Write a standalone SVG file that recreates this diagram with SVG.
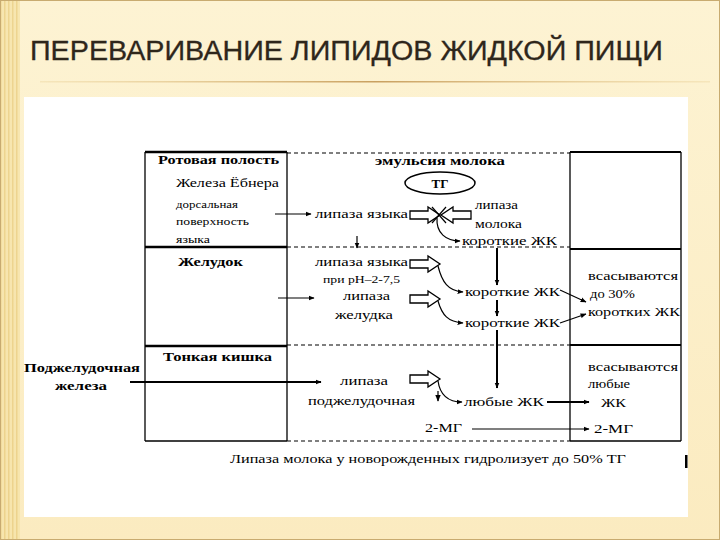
<svg xmlns="http://www.w3.org/2000/svg" width="720" height="540" viewBox="0 0 720 540">
<defs>
<linearGradient id="bg" x1="0" y1="0" x2="0" y2="1">
<stop offset="0" stop-color="#fdf3d3"/>
<stop offset="1" stop-color="#fbebc0"/>
</linearGradient>
<linearGradient id="rule" x1="0" y1="0" x2="1" y2="0">
<stop offset="0" stop-color="#e6c98a" stop-opacity="0.3"/>
<stop offset="0.5" stop-color="#c9a060"/>
<stop offset="1" stop-color="#e6c98a" stop-opacity="0.3"/>
</linearGradient>
<pattern id="stripes" width="4" height="10" patternUnits="userSpaceOnUse">
<rect width="4" height="10" fill="#f6e3a8"/>
<rect width="1.5" height="10" fill="#e9cd80"/>
</pattern>
<marker id="ah" viewBox="0 0 10 10" refX="9" refY="5" markerWidth="6" markerHeight="6" orient="auto" markerUnits="userSpaceOnUse">
<path d="M0,1 L10,5 L0,9 Z" fill="#000"/>
</marker>
<marker id="ahs" viewBox="0 0 10 10" refX="9" refY="5" markerWidth="7" markerHeight="7" orient="auto" markerUnits="userSpaceOnUse">
<path d="M0,1 L10,5 L0,9 Z" fill="#000"/>
</marker>
<path id="blk" d="M-30,-4 L-12,-4 L-12,-8 L0,0 L-12,8 L-12,4 L-30,4 Z" fill="#fff" stroke="#000" stroke-width="1.3"/>
</defs>
<style>
.t{font-family:"Liberation Serif","Times New Roman",serif;fill:#000;}
.b{font-weight:bold;}
.s13{font-size:13px;}
.s12{font-size:12px;}
.s10{font-size:10px;}
.box{fill:none;stroke:#000;stroke-width:1.3;}
.thk{fill:none;stroke:#000;stroke-width:2.5;}
.dash{fill:none;stroke:#000;stroke-width:1.2;stroke-dasharray:4,3;}
.ln{fill:none;stroke:#000;stroke-width:1.2;}
.lnt{fill:none;stroke:#000;stroke-width:2;}
</style>
<rect width="720" height="540" fill="url(#bg)"/>
<rect x="0" y="0" width="20" height="540" fill="url(#stripes)" opacity="0.8"/>
<rect x="0.5" y="0.5" width="719" height="539" fill="none" stroke="#c8ab70" stroke-width="1"/>
<text x="30" y="60" font-family="Liberation Sans, Arial, sans-serif" font-size="27" fill="#2e261b" stroke="#2e261b" stroke-width="0.3" textLength="633" lengthAdjust="spacingAndGlyphs">ПЕРЕВАРИВАНИЕ ЛИПИДОВ ЖИДКОЙ ПИЩИ</text>
<rect x="40" y="81" width="670" height="1.5" fill="url(#rule)"/>
<rect x="24" y="97" width="664" height="420" fill="#fff"/>

<g id="frame">
<line class="thk" x1="145" y1="152" x2="287" y2="152"/>
<line class="box" x1="145" y1="152" x2="145" y2="441"/>
<line class="box" x1="287" y1="152" x2="287" y2="441"/>
<line class="thk" x1="145" y1="247" x2="287" y2="247"/>
<line class="thk" x1="145" y1="346" x2="287" y2="346"/>
<line class="box" x1="145" y1="441" x2="287" y2="441"/>
<line class="dash" x1="287" y1="153" x2="570" y2="153"/>
<line class="dash" x1="287" y1="247" x2="570" y2="247"/>
<line class="dash" x1="287" y1="345" x2="570" y2="345"/>
<line class="dash" x1="287" y1="441" x2="570" y2="441"/>
<line class="lnt" x1="570" y1="152" x2="681" y2="152"/>
<line class="box" x1="570" y1="152" x2="570" y2="441"/>
<line class="box" x1="681" y1="152" x2="681" y2="441"/>
<line class="lnt" x1="570" y1="249" x2="681" y2="249"/>
<line class="lnt" x1="570" y1="345" x2="681" y2="345"/>
<line class="box" x1="570" y1="441" x2="681" y2="441"/>
<rect x="685" y="455" width="2.5" height="13" fill="#000"/>
</g>

<g id="mouth">
<text class="t b s13" x="158" y="164" textLength="121" lengthAdjust="spacingAndGlyphs">Ротовая полость</text>
<text class="t s13" x="176" y="187" textLength="103" lengthAdjust="spacingAndGlyphs">Железа Ёбнера</text>
<text class="t s10" x="176" y="208" textLength="62" lengthAdjust="spacingAndGlyphs">дорсальная</text>
<text class="t s10" x="176" y="225" textLength="73" lengthAdjust="spacingAndGlyphs">поверхность</text>
<text class="t s10" x="176" y="243" textLength="34" lengthAdjust="spacingAndGlyphs">языка</text>
</g>

<g id="stomach">
<text class="t b s13" x="178" y="266" textLength="65" lengthAdjust="spacingAndGlyphs">Желудок</text>
</g>

<g id="intestine">
<text class="t b s13" x="163" y="361" textLength="109" lengthAdjust="spacingAndGlyphs">Тонкая кишка</text>
</g>

<g id="pancreas">
<text class="t b s13" x="24" y="372" textLength="116" lengthAdjust="spacingAndGlyphs">Поджелудочная</text>
<text class="t b s13" x="55" y="390" textLength="52" lengthAdjust="spacingAndGlyphs">железа</text>
</g>

<g id="milk">
<text class="t b s13" x="375" y="165" textLength="130" lengthAdjust="spacingAndGlyphs">эмульсия молока</text>
<ellipse cx="440" cy="183" rx="35" ry="11" fill="none" stroke="#000" stroke-width="1.5"/>
<text class="t b s13" x="440" y="188" text-anchor="middle">ТГ</text>
</g>

<g id="lingual-lipase">
<text class="t s12" x="315" y="218" textLength="93" lengthAdjust="spacingAndGlyphs">липаза языка</text>
</g>

<g id="milk-lipase">
<text class="t s12" x="475" y="209" textLength="43" lengthAdjust="spacingAndGlyphs">липаза</text>
<text class="t s12" x="475" y="228" textLength="47" lengthAdjust="spacingAndGlyphs">молока</text>
</g>

<g id="sfa-1">
<text class="t s13" x="462" y="245" textLength="95" lengthAdjust="spacingAndGlyphs">короткие ЖК</text>
</g>

<g id="stomach-lipases">
<text class="t s12" x="315" y="266" textLength="93" lengthAdjust="spacingAndGlyphs">липаза языка</text>
<text class="t s10" x="323" y="283" textLength="77" lengthAdjust="spacingAndGlyphs">при рН–2-7,5</text>
<text class="t s12" x="343" y="300" textLength="47" lengthAdjust="spacingAndGlyphs">липаза</text>
<text class="t s12" x="335" y="319" textLength="58" lengthAdjust="spacingAndGlyphs">желудка</text>
</g>

<g id="sfa-2">
<text class="t s13" x="465" y="296" textLength="95" lengthAdjust="spacingAndGlyphs">короткие ЖК</text>
</g>
<g id="sfa-3">
<text class="t s13" x="465" y="327" textLength="95" lengthAdjust="spacingAndGlyphs">короткие ЖК</text>
</g>

<g id="absorb-30">
<text class="t s12" x="588" y="280" textLength="90" lengthAdjust="spacingAndGlyphs">всасываются</text>
<text class="t s12" x="590" y="298" textLength="45" lengthAdjust="spacingAndGlyphs">до 30%</text>
<text class="t s12" x="588" y="316" textLength="92" lengthAdjust="spacingAndGlyphs">коротких ЖК</text>
</g>

<g id="pancreatic-lipase">
<text class="t s12" x="340" y="385" textLength="48" lengthAdjust="spacingAndGlyphs">липаза</text>
<text class="t s12" x="308" y="405" textLength="107" lengthAdjust="spacingAndGlyphs">поджелудочная</text>
</g>

<g id="anyfa">
<text class="t s13" x="464" y="406" textLength="80" lengthAdjust="spacingAndGlyphs">любые ЖК</text>
</g>
<g id="mg">
<text class="t s13" x="425" y="432" textLength="37" lengthAdjust="spacingAndGlyphs">2-МГ</text>
</g>

<g id="absorb-all">
<text class="t s12" x="588" y="371" textLength="90" lengthAdjust="spacingAndGlyphs">всасываются</text>
<text class="t s12" x="588" y="388" textLength="42" lengthAdjust="spacingAndGlyphs">любые</text>
<text class="t s13" x="601" y="407" textLength="25" lengthAdjust="spacingAndGlyphs">ЖК</text>
<text class="t s13" x="594" y="433" textLength="39" lengthAdjust="spacingAndGlyphs">2-МГ</text>
</g>

<g id="footer">
<text class="t s13" x="230" y="463" textLength="396" lengthAdjust="spacingAndGlyphs">Липаза молока у новорожденных гидролизует до 50% ТГ</text>
</g>

<g id="connectors">
<line class="ln" x1="275" y1="214" x2="311" y2="214" marker-end="url(#ah)"/>
<line class="ln" x1="278" y1="298" x2="314" y2="298" marker-end="url(#ah)"/>
<line class="lnt" x1="130" y1="382" x2="321" y2="382" marker-end="url(#ah)"/>
<line class="ln" x1="357" y1="236" x2="357" y2="248" marker-end="url(#ah)"/>

<use href="#blk" transform="translate(440,215)"/>
<use href="#blk" transform="translate(440,215) scale(-1,1) translate(-1,0)"/>
<line class="ln" x1="432" y1="207" x2="446" y2="223" stroke-width="0.8"/>
<line class="ln" x1="446" y1="207" x2="432" y2="223" stroke-width="0.8"/>
<path class="ln" d="M437,218 C436,233 446,241 460,241" marker-end="url(#ah)"/>

<use href="#blk" transform="translate(440,264)"/>
<path class="ln" d="M438,266 C442,282 448,291 463,292" marker-end="url(#ah)"/>
<use href="#blk" transform="translate(440,299)"/>
<path class="ln" d="M438,301 C442,315 448,322 463,323" marker-end="url(#ah)"/>

<use href="#blk" transform="translate(440,379)"/>
<path class="ln" d="M438,381 C440,395 448,402 462,402" marker-end="url(#ah)"/>
<line class="ln" x1="438" y1="391" x2="438" y2="401" marker-end="url(#ahs)"/>

<line class="lnt" x1="497" y1="248" x2="497" y2="285" marker-end="url(#ah)"/>
<line class="lnt" x1="497" y1="300" x2="497" y2="316" marker-end="url(#ah)"/>
<line class="lnt" x1="497" y1="330" x2="497" y2="388" marker-end="url(#ah)"/>

<line class="ln" x1="560" y1="290" x2="586" y2="302" marker-end="url(#ah)"/>
<line class="ln" x1="560" y1="323" x2="586" y2="314" marker-end="url(#ah)"/>
<line class="lnt" x1="547" y1="402" x2="589" y2="402" marker-end="url(#ah)"/>
<line class="ln" x1="472" y1="429" x2="589" y2="429" marker-end="url(#ah)"/>
</g>
</svg>
